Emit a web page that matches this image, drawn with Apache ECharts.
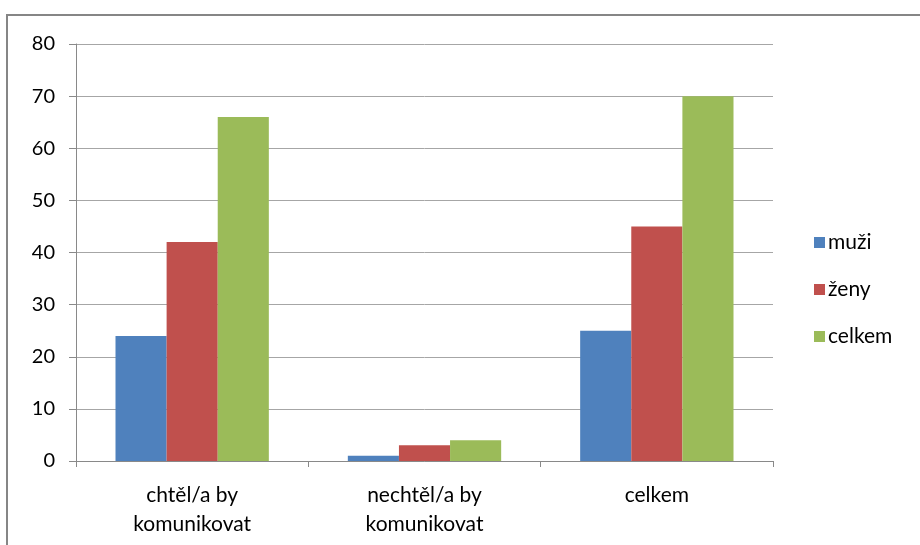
<!DOCTYPE html>
<html>
<head>
<meta charset="utf-8">
<script src="https://cdn.jsdelivr.net/npm/echarts@6/dist/echarts.min.js"></script>
<style>
  html, body { margin: 0; padding: 0; background: #fff; }
  #chart { width: 920px; height: 545px; }
</style>
</head>
<body>
<div id="chart"></div>
<script>
const categories = ["chtěl/a by\nkomunikovat", "nechtěl/a by\nkomunikovat", "celkem"]
const seriesNames = ["muži", "ženy", "celkem"]
const muzi = [24, 1, 25]
const zeny = [42, 3, 45]
const celkem = [66, 4, 70]
const colors = ["#4F81BD", "#C0504D", "#9BBB59"]

const font = "Lato, 'Open Sans', sans-serif"
const chart = echarts.init(document.getElementById("chart"))

chart.setOption({
  animation: false,
  textStyle: { fontFamily: font },
  graphic: [
    {
      type: "rect",
      shape: { x: 7, y: 15, width: 960, height: 600 },
      style: { fill: "none", stroke: "#868686", lineWidth: 2 },
    },
  ],
  grid: { left: 76, right: 147, top: 44, bottom: 84 },
  legend: {
    orient: "vertical",
    left: 809,
    top: 226,
    itemWidth: 11,
    itemHeight: 11,
    itemGap: 24,
    icon: "rect",
    data: seriesNames,
    textStyle: { fontSize: 21, color: "#000", fontFamily: font, padding: [0, 0, 0, -2], lineHeight: 23 },
  },
  xAxis: {
    type: "category",
    data: categories,
    axisLine: { lineStyle: { color: "#898989", width: 1 } },
    axisTick: { show: true, length: 6, lineStyle: { color: "#898989" } },
    axisLabel: { fontSize: 21, color: "#000", margin: 20, lineHeight: 29, fontFamily: font },
  },
  yAxis: {
    type: "value",
    min: 0,
    max: 80,
    interval: 10,
    axisLine: { show: true, lineStyle: { color: "#898989" } },
    axisTick: { show: true, length: 7, lineStyle: { color: "#898989" } },
    axisLabel: { fontSize: 20, color: "#000", margin: 21, fontFamily: font },
    splitLine: { lineStyle: { color: "#a6a6a6", width: 1 } },
  },
  series: [
    { name: seriesNames[0], type: "bar", data: muzi, itemStyle: { color: colors[0] }, barGap: "0%", barCategoryGap: "34%" },
    { name: seriesNames[1], type: "bar", data: zeny, itemStyle: { color: colors[1] }, barGap: "0%", barCategoryGap: "34%" },
    { name: seriesNames[2], type: "bar", data: celkem, itemStyle: { color: colors[2] }, barGap: "0%", barCategoryGap: "34%" },
  ],
})
</script>
</body>
</html>
